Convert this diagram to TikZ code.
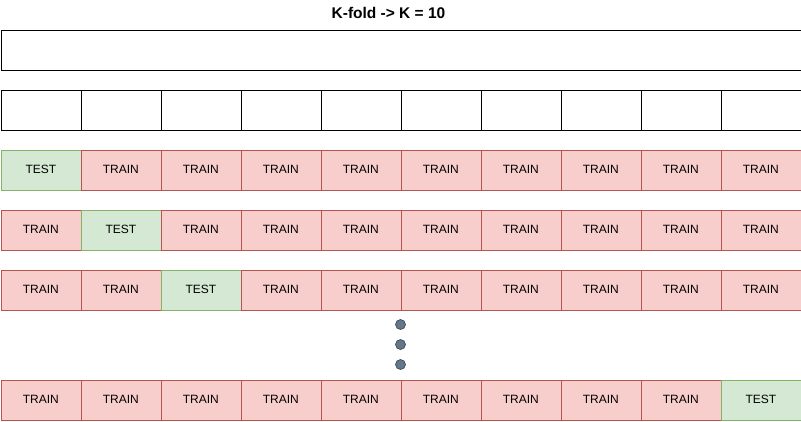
\documentclass[tikz,border=0pt]{standalone}
\usepackage{fontspec}
\setmainfont{Liberation Sans}
\definecolor{trainfill}{HTML}{F8CECC}
\definecolor{trainline}{HTML}{B85450}
\definecolor{testfill}{HTML}{D5E8D4}
\definecolor{testline}{HTML}{82B366}
\definecolor{dotfill}{HTML}{647687}
\definecolor{dotline}{HTML}{314354}
\begin{document}
\begin{tikzpicture}[x=1pt,y=-1pt,
  cell/.style={draw=black,line width=0.8pt,minimum width=80pt,minimum height=40pt,inner sep=0pt,anchor=north west,text depth=2pt,font=\fontsize{12}{14}\selectfont},
  trainbox/.style={cell,draw=trainline,fill=trainfill},
  testbox/.style={cell,draw=testline,fill=testfill},
  dotnode/.style={circle,draw=dotline,fill=dotfill,minimum size=10pt,inner sep=0pt,line width=0.6pt}]
\useasboundingbox (0,0) rectangle (801,421);
\node[font=\bfseries\fontsize{15.5}{17}\selectfont] (title) at (388.5,13) {K-fold -> K = 10};
\node[draw=black,line width=0.8pt,minimum width=800pt,minimum height=40pt,inner sep=0pt,anchor=north west] (whole) at (0.5,30) {};
\foreach \i in {0,...,9} {
  \node[cell] (e\i) at (0.5+80*\i,90) {};
}
\foreach \i in {0,...,9} {
  \ifnum\i=0 \node[testbox] (a\i) at (0.5+80*\i,150) {TEST};
  \else \node[trainbox] (a\i) at (0.5+80*\i,150) {TRAIN}; \fi
}
\foreach \i in {0,...,9} {
  \ifnum\i=1 \node[testbox] (b\i) at (0.5+80*\i,210) {TEST};
  \else \node[trainbox] (b\i) at (0.5+80*\i,210) {TRAIN}; \fi
}
\foreach \i in {0,...,9} {
  \ifnum\i=2 \node[testbox] (c\i) at (0.5+80*\i,270) {TEST};
  \else \node[trainbox] (c\i) at (0.5+80*\i,270) {TRAIN}; \fi
}
\foreach \i in {0,...,9} {
  \ifnum\i=9 \node[testbox] (d\i) at (0.5+80*\i,380) {TEST};
  \else \node[trainbox] (d\i) at (0.5+80*\i,380) {TRAIN}; \fi
}
\node[dotnode] (dot1) at (400.5,324.5) {};
\node[dotnode] (dot2) at (400.5,344.5) {};
\node[dotnode] (dot3) at (400.5,364.5) {};
\end{tikzpicture}
\end{document}
